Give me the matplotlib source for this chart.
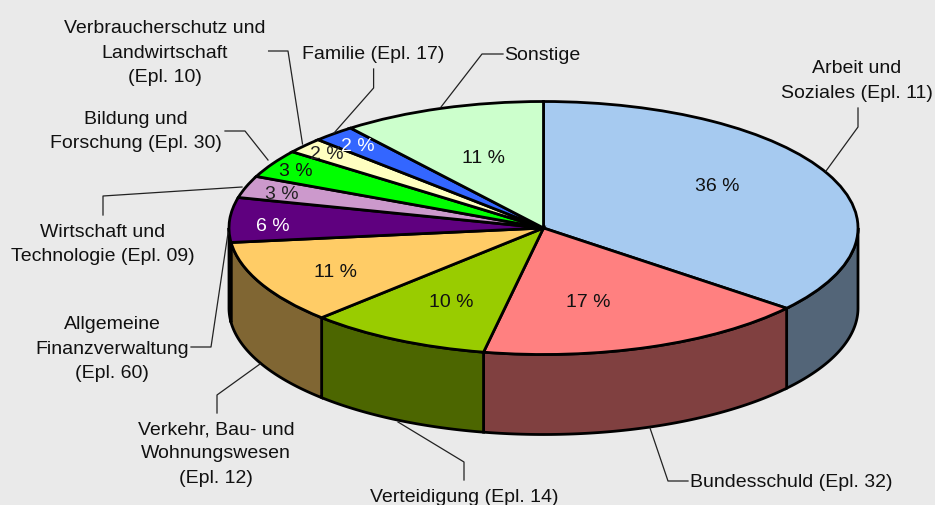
import numpy as np
import matplotlib
matplotlib.use('Agg')
import matplotlib.pyplot as plt

# clockwise from 12 o'clock
shares = [35.9, 17.1, 9.4, 10.7, 5.7, 2.8, 3.6, 2.0, 2.2, 10.5]
pct_labels = ['36 %', '17 %', '10 %', '11 %', '6 %', '3 %', '3 %', '2 %', '2 %', '11 %']
top_colors = ['#A6CAF0', '#FF8080', '#99CC00', '#FFCC66', '#5F007F', '#CC99CC', '#00FF00', '#FFFFC0', '#3366FF', '#CCFFCC']
side_colors = ['#536578', '#804040', '#4C6600', '#806633', '#200030', '#664C66', '#008000', '#808060', '#193380', '#668066']
pct_colors = ['#111111', '#111111', '#111111', '#111111', 'white', '#222222', '#111111', '#222222', 'white', '#111111']

plt.rcParams['font.family'] = ['Liberation Sans', 'DejaVu Sans']

cx, cy, rx, ry, depth = 543.5, 228, 314.5, 126.5, 80
bg = '#EAEAEA'

fig = plt.figure(figsize=(9.35, 5.05), dpi=100, facecolor=bg)
ax = fig.add_axes([0, 0, 1, 1])
wedges, _ = ax.pie(shares, colors=top_colors, startangle=90, counterclock=False,
                   wedgeprops={'edgecolor': 'black', 'linewidth': 2.0})
ax.set_aspect('auto')
ax.set_xlim(-cx / rx, (935 - cx) / rx)
ax.set_ylim((cy - 505) / ry, cy / ry)

# side wall of the front half
d = depth / ry
edges = np.cumsum([0] + shares) / sum(shares) * 2 * np.pi
for i in range(len(shares)):
    a0, a1 = max(edges[i], np.pi / 2), min(edges[i + 1], 3 * np.pi / 2)
    if a1 <= a0:
        continue
    t = np.linspace(a0, a1, 80)
    xs = np.r_[np.sin(t), np.sin(t[::-1])]
    ys = np.r_[np.cos(t), np.cos(t[::-1]) - d]
    ax.fill(xs, ys, facecolor=side_colors[i], edgecolor='black', linewidth=2.0, zorder=0.5)

# overlay in pixel coordinates for captions and leader lines
ov = fig.add_axes([0, 0, 1, 1], facecolor='none')
ov.set_xlim(0, 935)
ov.set_ylim(505, 0)
ov.axis('off')

pct_pos = [(717, 186.5), (588, 302.5), (451, 302.5), (335, 272.5), (273, 226.5),
           (282, 194.5), (296, 171.5), (327, 154.5), (358, 146.5), (483, 158.5)]
for lab, col, (x, y) in zip(pct_labels, pct_colors, pct_pos):
    ov.text(x, y, lab, color=col, fontsize=14, ha='center', va='center')

captions = [
    ('Arbeit und\nSoziales (Epl. 11)', 857, 81),
    ('Bundesschuld (Epl. 32)', 791, 482.5),
    ('Verteidigung (Epl. 14)', 464, 497.5),
    ('Verkehr, Bau- und\nWohnungswesen\n(Epl. 12)', 216, 454),
    ('Allgemeine\nFinanzverwaltung\n(Epl. 60)', 112, 349),
    ('Wirtschaft und\nTechnologie (Epl. 09)', 103, 244.5),
    ('Bildung und\nForschung (Epl. 30)', 136, 131.5),
    ('Verbraucherschutz und\nLandwirtschaft\n(Epl. 10)', 165, 53),
    ('Familie (Epl. 17)', 373.5, 54.5),
    ('Sonstige', 542, 55.5),
]
for text, x, y in captions:
    ov.text(x, y, text, color='#111111', fontsize=14, ha='center', va='center', linespacing=1.55)

leaders = [
    [(858, 108), (858, 127), (826, 171)],
    [(650, 428), (668, 481), (688, 481)],
    [(398, 422), (464, 462), (464, 480)],
    [(260, 364), (217, 395), (217, 413)],
    [(228, 233), (211, 347), (191, 347)],
    [(242, 187), (103, 196), (103, 215)],
    [(268, 160), (245, 131), (225, 131)],
    [(302.5, 144), (288, 51), (268.6, 51)],
    [(334, 133), (373.6, 88), (373.6, 69)],
    [(441, 107), (482, 54), (503, 54)],
]
for pts in leaders:
    ov.plot(*zip(*pts), color='#222222', linewidth=0.9)

fig.savefig('out.png', dpi=100, facecolor=bg)
